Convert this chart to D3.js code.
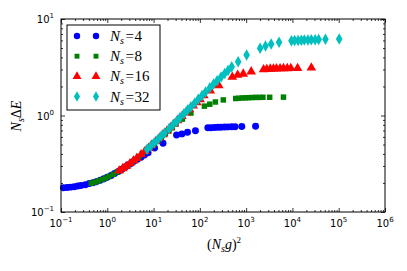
<!DOCTYPE html>
<html>
<head>
<meta charset="utf-8">
<script src="https://cdn.jsdelivr.net/npm/d3@7"></script>
<style>
  body { margin: 0; background: #fff; }
  svg { display: block; }
  .tick-label { font-family: "DejaVu Sans", sans-serif; font-size: 10px; fill: #000; }
  .math { font-family: "Liberation Serif", "DejaVu Serif", serif; fill: #000; }
</style>
</head>
<body>
<div id="chart"></div>
<script>
// coupling values g used by every run
var couplings = [0.084, 0.092, 0.1, 0.11, 0.12, 0.13, 0.145, 0.16, 0.175, 0.19, 0.21, 0.23,
  0.25, 0.275, 0.3, 0.33, 0.36, 0.4, 0.44, 0.48, 0.53, 0.58, 0.63, 0.69, 0.81, 1.0,
  1.4, 1.6, 1.84, 2.24, 3.05, 3.3, 3.6, 3.9, 4.2, 4.6, 5.0, 5.5, 6.0, 7.1, 10];

// system sizes
var sizes = [4, 8, 16, 32];

// N_s * dE for each size, one value per coupling
var gap4 = [0.178, 0.179, 0.181, 0.183, 0.186, 0.188, 0.192, 0.197, 0.201, 0.206, 0.213, 0.221,
  0.229, 0.239, 0.25, 0.263, 0.277, 0.296, 0.314, 0.333, 0.352, 0.37, 0.39, 0.41, 0.46, 0.515,
  0.628, 0.645, 0.67, 0.695, 0.745, 0.748, 0.752, 0.755, 0.757, 0.76, 0.762, 0.764, 0.765, 0.768, 0.772];
var gap8 = [0.199, 0.204, 0.21, 0.217, 0.225, 0.233, 0.246, 0.26, 0.274, 0.288, 0.308, 0.329,
  0.35, 0.376, 0.403, 0.436, 0.469, 0.512, 0.555, 0.597, 0.648, 0.699, 0.748, 0.818, 0.918, 1.06,
  1.25, 1.31, 1.38, 1.45, 1.5, 1.51, 1.52, 1.525, 1.53, 1.535, 1.54, 1.54, 1.545, 1.545, 1.55];
var gap16 = [0.268, 0.283, 0.298, 0.318, 0.34, 0.361, 0.394, 0.427, 0.461, 0.496, 0.541, 0.588,
  0.635, 0.692, 0.751, 0.821, 0.89, 0.981, 1.07, 1.157, 1.263, 1.366, 1.466, 1.61, 1.81, 2.05,
  2.5, 2.63, 2.7, 2.85, 3.0, 3.02, 3.04, 3.05, 3.06, 3.07, 3.08, 3.08, 3.09, 3.09, 3.12];
var gap32 = [0.447, 0.482, 0.518, 0.564, 0.613, 0.659, 0.731, 0.802, 0.874, 0.947, 1.041, 1.139,
  1.234, 1.351, 1.472, 1.615, 1.755, 1.94, 2.12, 2.29, 2.51, 2.72, 2.92, 3.2, 3.61, 4.24,
  4.97, 5.25, 5.51, 5.74, 5.95, 5.98, 6.0, 6.03, 6.05, 6.07, 6.08, 6.1, 6.12, 6.18, 6.2];

var gaps = [gap4, gap8, gap16, gap32];
var colors = ["#0000ff", "#008000", "#ff0000", "#00bfbf"];
var shapes = [d3.symbolCircle, d3.symbolSquare, d3.symbolTriangle, d3.symbolDiamond];
var symSizes = [38, 30, 40, 38];

var xTicks = [1e-1, 1e0, 1e1, 1e2, 1e3, 1e4, 1e5, 1e6];
var xExps = ["-1", "0", "1", "2", "3", "4", "5", "6"];
var yTicks = [1e-1, 1e0, 1e1];
var yExps = ["-1", "0", "1"];

var svg_width = 407, svg_height = 271;
var margin = { top: 19, right: 22, bottom: 59, left: 61 };
var width = svg_width - margin.left - margin.right;
var height = svg_height - margin.top - margin.bottom;

var svg = d3.select("#chart").append("svg")
  .attr("width", svg_width)
  .attr("height", svg_height);

var chart = svg.append("g")
  .attr("transform", `translate(${margin.left}, ${margin.top})`);

var x_scale = d3.scaleLog().domain([1e-1, 1e6]).range([0, width]);
var y_scale = d3.scaleLog().domain([1e-1, 1e1]).range([height, 0]);

// minor ticks 2..9 for every decade
function minors(lo, hi) {
  var out = [];
  for (var e = lo; e < hi; e++) {
    for (var k = 2; k <= 9; k++) out.push(k * Math.pow(10, e));
  }
  return out;
}
var xMinor = minors(-1, 6);
var yMinor = minors(-1, 1);

function addAxis(axis, transform) {
  var g = chart.append("g").attr("transform", transform).call(axis);
  g.select(".domain").remove();
  g.selectAll("line").attr("stroke", "#000").attr("stroke-width", 0.8);
  return g;
}

addAxis(d3.axisBottom(x_scale).tickValues(xTicks).tickSize(-4).tickSizeOuter(0).tickFormat(""), `translate(0,${height})`);
addAxis(d3.axisBottom(x_scale).tickValues(xMinor).tickSize(-2).tickSizeOuter(0).tickFormat(""), `translate(0,${height})`);
addAxis(d3.axisTop(x_scale).tickValues(xTicks).tickSize(-4).tickSizeOuter(0).tickFormat(""), "translate(0,0)");
addAxis(d3.axisTop(x_scale).tickValues(xMinor).tickSize(-2).tickSizeOuter(0).tickFormat(""), "translate(0,0)");
addAxis(d3.axisLeft(y_scale).tickValues(yTicks).tickSize(-4).tickSizeOuter(0).tickFormat(""), "translate(0,0)");
addAxis(d3.axisLeft(y_scale).tickValues(yMinor).tickSize(-2).tickSizeOuter(0).tickFormat(""), "translate(0,0)");
addAxis(d3.axisRight(y_scale).tickValues(yTicks).tickSize(-4).tickSizeOuter(0).tickFormat(""), `translate(${width},0)`);
addAxis(d3.axisRight(y_scale).tickValues(yMinor).tickSize(-2).tickSizeOuter(0).tickFormat(""), `translate(${width},0)`);

// tick labels 10^n
xTicks.forEach(function(v, i) {
  var t = chart.append("text").attr("class", "tick-label")
    .attr("x", x_scale(v)).attr("y", height + 15)
    .attr("text-anchor", "middle");
  t.append("tspan").text("10");
  t.append("tspan").attr("dy", -5).style("font-size", "7px").text(xExps[i].replace("-", "\u2212"));
});
yTicks.forEach(function(v, i) {
  var t = chart.append("text").attr("class", "tick-label")
    .attr("x", -7).attr("y", y_scale(v) + 4)
    .attr("text-anchor", "end");
  t.append("tspan").text("10");
  t.append("tspan").attr("dy", -5).style("font-size", "7px").text(yExps[i].replace("-", "\u2212"));
});

// data points, drawn in series order so cyan sits on top
sizes.forEach(function(ns, si) {
  var pts = couplings.map(function(g, i) { return { x: (ns * g) * (ns * g), y: gaps[si][i] }; });
  chart.append("g").selectAll("path")
    .data(pts)
    .enter()
    .append("path")
    .attr("d", d3.symbol().type(shapes[si]).size(symSizes[si]))
    .attr("transform", d => `translate(${x_scale(d.x)},${y_scale(d.y)})`)
    .attr("fill", colors[si]);
});

// frame
chart.append("rect")
  .attr("width", width).attr("height", height)
  .attr("fill", "none").attr("stroke", "#000").attr("stroke-width", 1);

// legend
var legend = chart.append("g").attr("transform", "translate(6,6)");
legend.append("rect")
  .attr("width", 93).attr("height", 85)
  .attr("fill", "#fff").attr("stroke", "#000").attr("stroke-width", 1);
sizes.forEach(function(ns, i) {
  var yy = 11 + i * 20.2;
  [10, 29].forEach(function(xx) {
    legend.append("path")
      .attr("d", d3.symbol().type(shapes[i]).size(symSizes[i] - 6))
      .attr("transform", `translate(${xx},${yy})`)
      .attr("fill", colors[i]);
  });
  var t = legend.append("text").attr("class", "math")
    .attr("x", 43).attr("y", yy + 5).style("font-size", "15px");
  t.append("tspan").style("font-style", "italic").text("N");
  t.append("tspan").style("font-style", "italic").style("font-size", "10px").attr("dy", 3).text("s");
  t.append("tspan").attr("dy", -3).attr("dx", 1.5).text("=");
  t.append("tspan").attr("dx", 0.5).text(String(ns));
});

// axis titles
var xl = chart.append("text").attr("class", "math")
  .attr("x", width / 2 + 1).attr("y", height + 37)
  .attr("text-anchor", "middle").style("font-size", "14px");
xl.append("tspan").text("(");
xl.append("tspan").style("font-style", "italic").text("N");
xl.append("tspan").style("font-style", "italic").style("font-size", "10px").attr("dy", 3).text("s");
xl.append("tspan").style("font-style", "italic").attr("dy", -3).text("g");
xl.append("tspan").text(")");
xl.append("tspan").style("font-size", "9px").attr("dy", -6).text("2");

var yl = svg.append("text").attr("class", "math")
  .attr("transform", "translate(21,116) rotate(-90)")
  .attr("text-anchor", "middle").style("font-size", "14px");
yl.append("tspan").style("font-style", "italic").text("N");
yl.append("tspan").style("font-style", "italic").style("font-size", "10px").attr("dy", 3).text("s");
yl.append("tspan").attr("dy", -3).text("\u0394");
yl.append("tspan").style("font-style", "italic").text("E");
</script>
</body>
</html>
